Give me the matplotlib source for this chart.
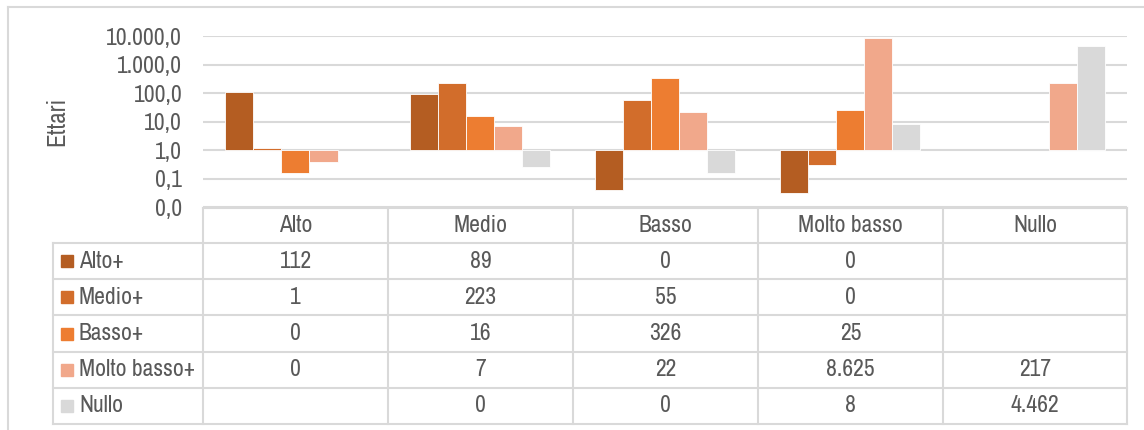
import matplotlib.pyplot as plt
from matplotlib import font_manager
import numpy as np

categories = ["Alto", "Medio", "Basso", "Molto basso", "Nullo"]
series = ["Alto+", "Medio+", "Basso+", "Molto basso+", "Nullo"]

# ettari per classe (None = nessun dato)
alto_plus = [112, 89, 0.04, 0.03, None]
medio_plus = [1.15, 223, 55, 0.3, None]
basso_plus = [0.16, 16, 326, 25, None]
molto_basso_plus = [0.37, 7, 22, 8625, 217]
nullo = [None, 0.25, 0.16, 8, 4462]

colors = ["#B45D22", "#D26D2B", "#ED7D31", "#F1A88B", "#D9D9D9"]

W, H = 1144, 430
TXT = "#595959"
GRID = "#D9D9D9"

# look for a narrow face, like the Arial Narrow of the original
names = sorted({f.name for f in font_manager.fontManager.ttflist})
narrow = [n for n in names if "Narrow" in n or "Condensed" in n]
FONT = narrow[:1] + ["Roboto", "DejaVu Sans"]
FS = 17 if narrow else 13


def fx(px):
    return px / W


def fy(py):
    return 1 - py / H


def fmt_it(v):
    if v is None:
        return ""
    return f"{int(round(v)):,}".replace(",", ".")


plt.rcParams["font.family"] = FONT
fig = plt.figure(figsize=(W / 100, H / 100), dpi=100)

# chart area
col_left, col_right = 203, 1127
y_top, y_bot = 36, 207
ax = fig.add_axes([fx(col_left), fy(y_bot), fx(col_right - col_left), (y_bot - y_top) / H])
ax.set_yscale("log")
ax.set_ylim(0.01, 10000)
ax.set_xlim(-0.5, len(categories) - 0.5)

all_series = [alto_plus, medio_plus, basso_plus, molto_basso_plus, nullo]
bw = 0.152
x = np.arange(len(categories))
for i, (vals, c) in enumerate(zip(all_series, colors)):
    for xi, v in zip(x, vals):
        if v is None:
            continue
        ax.bar(xi + (i - 2) * bw, v - 1, bottom=1, width=bw, color=c,
               edgecolor="white", linewidth=0.6, zorder=3)

ax.set_yticks([0.01, 0.1, 1, 10, 100, 1000, 10000])
ax.set_yticklabels(["0,0", "0,1", "1,0", "10,0", "100,0", "1.000,0", "10.000,0"])
ax.minorticks_off()
ax.yaxis.grid(True, color=GRID, linewidth=1.5, zorder=0)
ax.tick_params(axis="y", length=0, pad=15, labelsize=FS, labelcolor=TXT)
ax.tick_params(axis="x", length=0, labelbottom=False)
for s in ax.spines.values():
    s.set_visible(False)
fig.text(fx(57), fy(121), "Ettari", rotation=90, ha="center", va="center",
         fontsize=FS + 1, color=TXT)

# data table + outer frame
tab = fig.add_axes([0, 0, 1, 1])
tab.set_xlim(0, W)
tab.set_ylim(H, 0)
tab.axis("off")

tab.plot([8, W], [7, 7], color=GRID, lw=1.5)
tab.plot([8, 8], [7, H], color=GRID, lw=1.5)

col_edges = [203, 388, 573, 758, 943, 1127]
row_edges = [208, 243, 279, 315, 352, 388, 424]
leg_left = 53

tab.plot([col_edges[0], col_edges[-1]], [row_edges[0]] * 2, color=GRID, lw=1.5)
for ry in row_edges[1:]:
    tab.plot([leg_left, col_edges[-1]], [ry, ry], color=GRID, lw=1.5)
tab.plot([leg_left, leg_left], [row_edges[1], row_edges[-1]], color=GRID, lw=1.5)
for cx in col_edges:
    tab.plot([cx, cx], [row_edges[0], row_edges[-1]], color=GRID, lw=1.5)

for j, cat in enumerate(categories):
    cx = (col_edges[j] + col_edges[j + 1]) / 2
    cy = (row_edges[0] + row_edges[1]) / 2
    tab.text(cx, cy, cat, ha="center", va="center", fontsize=FS, color=TXT)

for i, (name, vals, c) in enumerate(zip(series, all_series, colors)):
    cy = (row_edges[i + 1] + row_edges[i + 2]) / 2
    tab.add_patch(plt.Rectangle((61, cy - 6), 12, 12, color=c))
    tab.text(79, cy, name, ha="left", va="center", fontsize=FS, color=TXT)
    for j, v in enumerate(vals):
        cx = (col_edges[j] + col_edges[j + 1]) / 2
        tab.text(cx, cy, fmt_it(v), ha="center", va="center", fontsize=FS, color=TXT)

fig.savefig("out.png", dpi=100)
